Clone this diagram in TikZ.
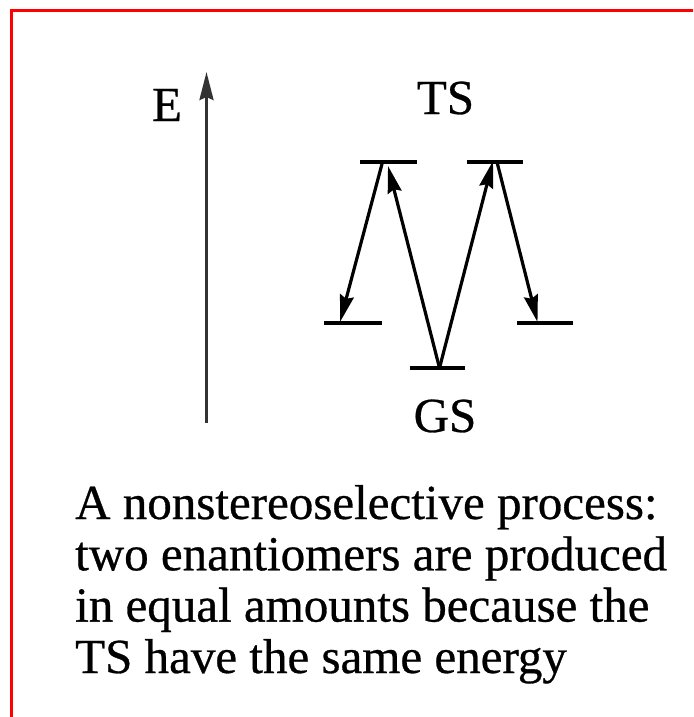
\documentclass[tikz,border=0pt]{standalone}
\usepackage{fontspec}
\setmainfont{Liberation Serif}[FakeBold=0.6]
\usetikzlibrary{arrows.meta}
\begin{document}
\begin{tikzpicture}[x=1pt,y=-1pt,
  frame/.style={draw=red,line width=3.6pt},
  level/.style={draw=black,line width=3.4pt},
  conn/.style={draw=black,line width=3.2pt,-{Stealth[length=27pt,width=14pt,inset=3pt]}},
  axis/.style={draw=black!80,line width=3pt,-{Stealth[length=28pt,width=14pt,inset=3pt]}},
  lbl/.style={inner sep=0pt,anchor=base,font=\fontsize{49}{51}\selectfont},
  body/.style={inner sep=0pt,anchor=base west,font=\fontsize{49}{51}\selectfont}]
\useasboundingbox (0,0) rectangle (693,717);
% frame (cut off at right and bottom)
\draw[frame] (11.5,717) -- (11.5,10.5) -- (693,10.5);
% energy axis
\coordinate (axB) at (206.5,423);
\coordinate (axT) at (206.5,72);
\draw[axis] (axB) -- (axT);
\node[lbl] (E) at (167,121) {E};
% levels
\draw[level] (360,162) -- (417,162);
\draw[level] (467,162) -- (523,162);
\draw[level] (324,323) -- (382,323);
\draw[level] (517,323) -- (573,323);
\draw[level] (410,368) -- (465,368);
% connector end points
\coordinate (tsL1) at (382.5,162);
\coordinate (pL) at (340,322);
\coordinate (gs) at (439.5,368);
\coordinate (tsL2) at (388,166);
\coordinate (tsR1) at (493,161);
\coordinate (tsR2) at (497,162);
\coordinate (pR) at (537.5,322);
\draw[conn] (tsL1) -- (pL);
\draw[conn] (gs) -- (tsL2);
\draw[conn] (gs) -- (tsR1);
\draw[conn] (tsR2) -- (pR);
% labels
\node[lbl] (TS) at (445.5,114) {TS};
\node[lbl] (GS) at (445,432) {GS};
% caption
\node[body] (l1) at (75,519) {A nonstereoselective process:};
\node[body] (l2) at (75,570.3) {two enantiomers are produced};
\node[body] (l3) at (75,621.6) {in equal amounts because the};
\node[body] (l4) at (75,673) {TS have the same energy};
\end{tikzpicture}
\end{document}
